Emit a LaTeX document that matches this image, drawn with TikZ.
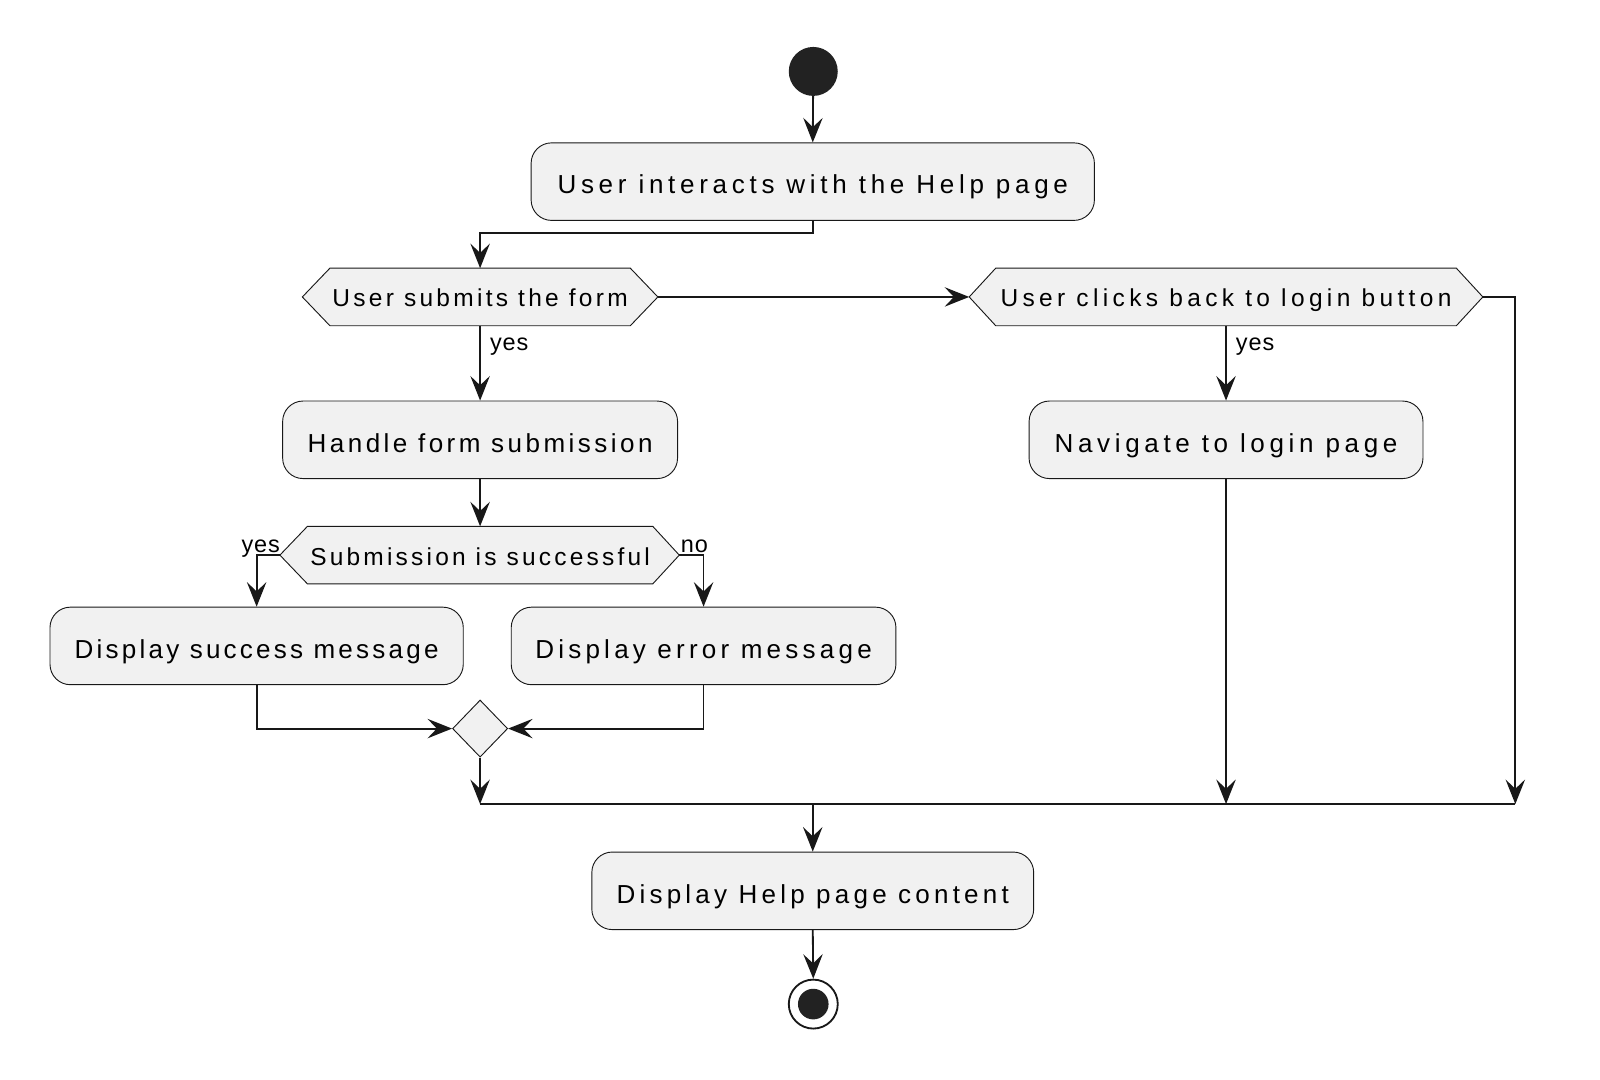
\documentclass[tikz,border=0pt]{standalone}
\usepackage{fontspec}
\setmainfont{Liberation Sans}
\newfontfamily\actfont{Liberation Sans}
\newfontfamily\lblfont[LetterSpace=4]{Liberation Sans}
\newcommand\trk[1]{\addfontfeature{LetterSpace=#1}}
\usetikzlibrary{arrows.meta,backgrounds,calc,shapes.geometric}
\definecolor{boxC}{HTML}{F1F1F1}
\definecolor{lineC}{HTML}{181818}
\definecolor{dotC}{HTML}{222222}
\begin{document}
\begin{tikzpicture}[x=1pt,y=-1pt,
  act/.style={draw=lineC, line width=0.9pt, fill=boxC, rounded corners=20pt, minimum height=76pt, inner sep=0pt, text height=24pt, text depth=0pt, font=\actfont\fontsize{25.5}{30}\selectfont, text=black},
  dec/.style={inner sep=0pt, minimum height=56pt, text height=19.4pt, text depth=0pt, font=\actfont\fontsize{24}{28}\selectfont, text=black},
  hexborder/.style={draw=lineC, line width=0.9pt, fill=boxC},
  flow/.style={draw=lineC, line width=1.8pt, -{Stealth[length=24pt,width=19pt,inset=9pt]}},
  plain/.style={draw=lineC, line width=1.8pt},
  lbl/.style={font=\lblfont\fontsize{23}{27}\selectfont, inner sep=0pt, text=black},
]
\useasboundingbox (0,0) rectangle (1568,1058);

% nodes
\node[circle, fill=dotC, minimum size=48pt, inner sep=0pt] (start) at (797,70) {};
\node[act, minimum width=552pt] (a1) at (796.5,178) {\trk{18.1}User interacts with the Help page};
\node[dec, minimum width=294pt] (d1) at (470.5,291) {\trk{13.4}User submits the form};
\node[dec, minimum width=451pt] (d2) at (1201.5,291) {\trk{17.8}User clicks back to login button};
\node[act, minimum width=387pt] (h) at (470.5,431) {\trk{13.3}Handle form submission};
\node[act, minimum width=386pt] (n) at (1201.5,431) {\trk{17.9}Navigate to login page};
\node[dec, minimum width=338pt] (d3) at (470.5,544) {\trk{13.1}Submission is successful};
\node[act, minimum width=405pt] (s) at (251.5,633) {\trk{12.4}Display success message};
\node[act, minimum width=377pt] (e) at (689.5,633) {\trk{16.3}Display error message};
\node[diamond, draw=lineC, line width=0.9pt, fill=boxC, minimum width=54pt, minimum height=56pt, inner sep=0pt] (m) at (470.5,714) {};
\node[act, minimum width=433pt] (c) at (796.5,873) {\trk{16.2}Display Help page content};
\node[circle, draw=lineC, line width=1.8pt, minimum size=48pt, inner sep=0pt] (end) at (797,984) {};
\node[circle, fill=dotC, minimum size=30pt, inner sep=0pt] (endin) at (797,984) {};

% hexagon tips
\coordinate (d1w) at ([xshift=-27pt]d1.west);
\coordinate (d1e) at ([xshift=27pt]d1.east);
\coordinate (d2w) at ([xshift=-26pt]d2.west);
\coordinate (d2e) at ([xshift=26pt]d2.east);
\coordinate (d3w) at ([xshift=-27pt]d3.west);
\coordinate (d3e) at ([xshift=26pt]d3.east);

% join points
\coordinate (j1) at (470.5,788);
\coordinate (j2) at (1201.5,788);
\coordinate (j3) at (1485,788);
\coordinate (jc) at (796.5,788);

\begin{scope}[on background layer]
  \fill[white] (0,0) rectangle (1568,1058);
  \path[hexborder] (d1.north west) -- (d1.north east) -- (d1e) -- (d1.south east) -- (d1.south west) -- (d1w) -- cycle;
  \path[hexborder] (d2.north west) -- (d2.north east) -- (d2e) -- (d2.south east) -- (d2.south west) -- (d2w) -- cycle;
  \path[hexborder] (d3.north west) -- (d3.north east) -- (d3e) -- (d3.south east) -- (d3.south west) -- (d3w) -- cycle;
\end{scope}

% labels
\node[lbl, anchor=base west] (l1) at (480,343) {yes};
\node[lbl, anchor=base west] (l2) at (1211,343) {yes};
\node[lbl, anchor=base east] (l3) at (274.5,541) {yes};
\node[lbl, anchor=base west] (l4) at (667,541) {no};

% connectors
\draw[flow] (start) -- (a1.north);
\draw[flow] (a1.south) -- ++(0,12) -| (d1.north);
\draw[flow] (d1e) -- (d2w);
\draw[flow] (d1.south) -- (h.north);
\draw[flow] (d2.south) -- (n.north);
\draw[flow] (d2e) -| (j3);
\draw[flow] (h.south) -- (d3.north);
\draw[flow] (d3w) -| (s.north);
\draw[flow] (d3e) -| (e.north);
\draw[flow] (s.south) |- (m.west);
\draw[flow] (e.south) |- (m.east);
\draw[flow] (m.south) -- (j1);
\draw[flow] (n.south) -- (j2);
\draw[plain] (j1) -- (j3);
\draw[flow] (jc) -- (c.north);
\draw[flow] (c.south) -- (end.north);
\end{tikzpicture}
\end{document}
